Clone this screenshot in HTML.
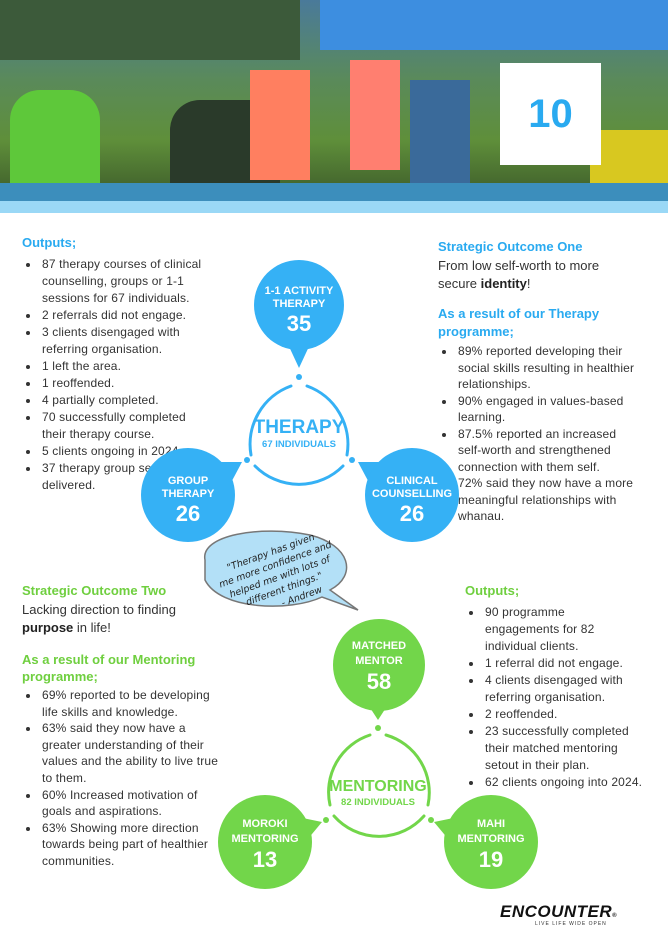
<!DOCTYPE html>
<html><head><meta charset="utf-8"><style>
body{margin:0;width:668px;height:944px;position:relative;background:#fff;font-family:"Liberation Sans",sans-serif;overflow:hidden;color:#333}
.a{position:absolute}
h3{margin:0;font-size:13px;color:#29aaf0;font-weight:bold}
.g h3{color:#6fcf3f}
ul{margin:0;padding-left:18px;font-size:12px;line-height:17px;color:#333;letter-spacing:0.15px}
li{padding-left:2px}
.c{position:absolute;border-radius:50%;color:#fff;text-align:center;font-weight:bold}
</style></head><body>
<div class="a" style="left:0;top:0;width:668px;height:200px;background:linear-gradient(180deg,#4a7a9a 0%,#5a8a5a 40%,#5f8f3a 70%,#3c5a2a 100%)"></div>
<div class="a" style="left:0;top:0;width:300px;height:60px;background:#3c5a3a"></div>
<div class="a" style="left:320px;top:0;width:348px;height:50px;background:#3d8ee0"></div>
<div class="a" style="left:10px;top:90px;width:90px;height:110px;background:#5ec83a;border-radius:30px 30px 0 0"></div>
<div class="a" style="left:170px;top:100px;width:110px;height:100px;background:#2a3a2a;border-radius:30px 30px 0 0"></div>
<div class="a" style="left:250px;top:70px;width:60px;height:110px;background:#ff7f60"></div>
<div class="a" style="left:350px;top:60px;width:50px;height:110px;background:#ff7f70"></div>
<div class="a" style="left:410px;top:80px;width:60px;height:110px;background:#3a6a9a"></div>
<div class="a" style="left:590px;top:130px;width:78px;height:60px;background:#d8c820"></div>
<div class="a" style="left:0;top:183px;width:668px;height:18px;background:#3c8ebc"></div>
<div class="a" style="left:0;top:201px;width:668px;height:12px;background:#9ad8f6"></div>
<div class="a" style="left:500px;top:63px;width:101px;height:102px;background:#fff;color:#29aaf0;font-weight:bold;font-size:40px;text-align:center;line-height:102px">10</div>

<div class="a" style="left:22px;top:235px;width:188px"><h3>Outputs;</h3>
<ul style="margin-top:6px"><li>87 therapy courses of clinical counselling, groups or 1-1 sessions for 67 individuals.</li><li>2 referrals did not engage.</li><li>3 clients disengaged with referring organisation.</li><li>1 left the area.</li><li>1 reoffended.</li><li>4 partially completed.</li><li>70 successfully completed their therapy course.</li><li>5 clients ongoing in 2024.</li><li>37 therapy group sessions delivered.</li></ul></div>

<div class="a" style="left:438px;top:239px;width:205px"><h3>Strategic Outcome One</h3>
<div style="font-size:13px;line-height:18px;margin-top:3px;width:180px">From low self-worth to more secure <b style="color:#222">identity</b>!</div>
<h3 style="margin-top:12px;line-height:18px">As a result of our Therapy programme;</h3>
<ul style="margin-top:2px;line-height:16.5px"><li>89% reported developing their social skills resulting in healthier relationships.</li><li>90% engaged in values-based learning.</li><li>87.5% reported an increased self-worth and strengthened connection with them self.</li><li>72% said they now have a more meaningful relationships with whanau.</li></ul></div>

<div class="a g" style="left:22px;top:583px;width:198px"><h3>Strategic Outcome Two</h3>
<div style="font-size:13px;line-height:18px;margin-top:3px;width:175px">Lacking direction to finding <b style="color:#222">purpose</b> in life!</div>
<h3 style="margin-top:14px;line-height:17px">As a result of our Mentoring programme;</h3>
<ul style="margin-top:2px;line-height:16.6px"><li>69% reported to be developing life skills and knowledge.</li><li>63% said they now have a greater understanding of their values and the ability to live true to them.</li><li>60% Increased motivation of goals and aspirations.</li><li>63% Showing more direction towards being part of healthier communities.</li></ul></div>

<div class="a g" style="left:465px;top:583px;width:185px"><h3>Outputs;</h3>
<ul style="margin-top:6px;white-space:nowrap"><li>90 programme<br>engagements for 82<br>individual clients.</li><li>1 referral did not engage.</li><li>4 clients disengaged with<br>referring organisation.</li><li>2 reoffended.</li><li>23 successfully completed<br>their matched mentoring<br>setout in their plan.</li><li>62 clients ongoing into 2024.</li></ul></div>

<svg class="a" style="left:0;top:0" width="668" height="944">
<g fill="#35b1f5" stroke="none">
<path d="M286 340 L299 368 L312 340Z"/><path d="M208 462 L242 462 L226 492Z"/><path d="M392 462 L358 462 L374 492Z"/>
<circle cx="299" cy="377" r="3"/><circle cx="247" cy="460" r="3"/><circle cx="352" cy="460" r="3"/>
</g>
<path d="M307 386 A62 62 0 0 1 347 455 M343 466 A62 62 0 0 1 255 466 M251 455 A62 62 0 0 1 291 386" fill="none" stroke="#35b1f5" stroke-width="3" stroke-linecap="round"/>
<g fill="#72d64a">
<path d="M365 700 L378 720 L391 700Z"/><path d="M288 815 L322 822 L302 846Z"/><path d="M468 815 L434 822 L454 846Z"/>
<circle cx="378" cy="728" r="3"/><circle cx="326" cy="820" r="3"/><circle cx="431" cy="820" r="3"/>
</g>
<path d="M386 735 A60 60 0 0 1 428 805 M424 816 A60 60 0 0 1 334 816 M330 805 A60 60 0 0 1 370 735" fill="none" stroke="#72d64a" stroke-width="3" stroke-linecap="round"/>
<path d="M205 560 C200 535 260 525 310 535 C350 545 358 575 330 590 L358 610 L322 597 C290 612 220 610 205 580Z" fill="#b3e0f7" stroke="#777" stroke-width="1.5"/>
<text transform="translate(278 572) rotate(-20)" font-family="DejaVu Sans" font-style="italic" font-size="9.5" fill="#222" text-anchor="middle"><tspan x="0" y="-18">"Therapy has given</tspan><tspan x="0" y="-5">me more confidence and</tspan><tspan x="0" y="8">helped me with lots of</tspan><tspan x="0" y="21">different things."</tspan><tspan x="14" y="34">- Andrew</tspan></text>
</svg>

<div class="c" style="left:254px;top:260px;width:90px;height:90px;background:#35b1f5;font-size:11px;line-height:13px"><div style="padding-top:25px">1-1 ACTIVITY<br>THERAPY</div><div style="font-size:22px;line-height:26px">35</div></div>
<div class="c" style="left:141px;top:448px;width:94px;height:94px;background:#35b1f5;font-size:11px;line-height:13px"><div style="padding-top:27px">GROUP<br>THERAPY</div><div style="font-size:22px;line-height:26px">26</div></div>
<div class="c" style="left:365px;top:448px;width:94px;height:94px;background:#35b1f5;font-size:11px;line-height:13px"><div style="padding-top:27px">CLINICAL<br>COUNSELLING</div><div style="font-size:22px;line-height:26px">26</div></div>
<div class="a" style="left:237px;top:417px;width:124px;text-align:center;color:#35b1f5;font-weight:bold"><div style="font-size:19px;line-height:22px">THERAPY</div><div style="font-size:9.5px">67 INDIVIDUALS</div></div>

<div class="c" style="left:333px;top:619px;width:92px;height:92px;background:#72d64a;font-size:11px;line-height:15px"><div style="padding-top:20px">MATCHED<br>MENTOR</div><div style="font-size:22px;line-height:26px">58</div></div>
<div class="c" style="left:218px;top:795px;width:94px;height:94px;background:#72d64a;font-size:11px;line-height:15px"><div style="padding-top:22px">MOROKI<br>MENTORING</div><div style="font-size:22px;line-height:26px">13</div></div>
<div class="c" style="left:444px;top:795px;width:94px;height:94px;background:#72d64a;font-size:11px;line-height:15px"><div style="padding-top:22px">MAHI<br>MENTORING</div><div style="font-size:22px;line-height:26px">19</div></div>
<div class="a" style="left:318px;top:777px;width:120px;text-align:center;color:#72d64a;font-weight:bold"><div style="font-size:16px;line-height:20px">MENTORING</div><div style="font-size:9.5px">82 INDIVIDUALS</div></div>

<div class="a" style="left:500px;top:902px;font-size:17px;font-weight:bold;font-style:italic;color:#111;letter-spacing:0.5px">ENCOUNTER<span style="font-size:6px">®</span></div>
<div class="a" style="left:535px;top:921px;font-size:5px;color:#333;letter-spacing:1px">LIVE LIFE WIDE OPEN</div>
</body></html>
